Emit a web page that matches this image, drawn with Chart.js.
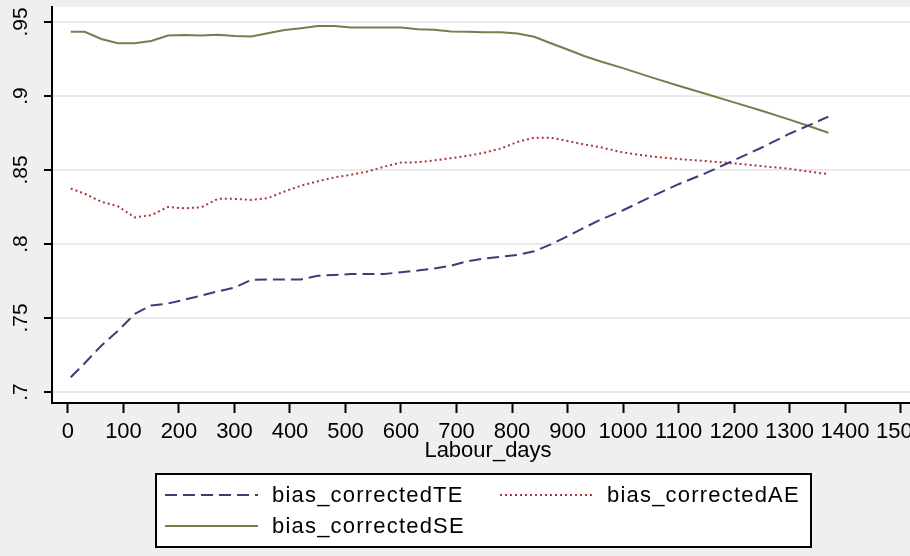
<!DOCTYPE html>
<html>
<head>
<meta charset="utf-8">
<title>bias corrected efficiency by Labour_days</title>
<script src="https://cdn.jsdelivr.net/npm/chart.js@4.4.1/dist/chart.umd.min.js"></script>
<style>
  html, body { margin: 0; padding: 0; background: #efefef; overflow: hidden; }
  #wrap { position: relative; width: 940px; height: 556px; }
</style>
</head>
<body>
<div id="wrap"><canvas id="chart"></canvas></div>
<script>
// ---- data ----
const labourDays = [5, 30, 60, 90, 120, 150, 180, 210, 240, 270, 300, 330, 360, 390, 420, 450, 480, 510, 540, 570,
                    600, 630, 660, 690, 720, 750, 780, 810, 840, 870, 900, 930, 960, 1000, 1050, 1100, 1150, 1200, 1250, 1300, 1340, 1370];

const teValues = [.7100, .7195, .7313, .7414, .7527, .7585, .7598, .7624, .7651, .7680, .7705, .7758, .7760, .7761, .7761, .7785, .7791, .7797, .7797, .7797,
                  .7810, .7821, .7835, .7853, .7884, .7902, .7914, .7927, .7951, .7998, .8052, .8110, .8165, .8228, .8318, .8404, .8480, .8565, .8652, .8745, .8810, .8860];

const aeValues = [.8375, .8340, .8285, .8255, .8180, .8195, .8250, .8241, .8248, .8305, .8305, .8298, .8310, .8355, .8394, .8424, .8450, .8468, .8490, .8523,
                  .8550, .8552, .8565, .8580, .8595, .8617, .8645, .8690, .8718, .8718, .8696, .8673, .8653, .8618, .8592, .8574, .8560, .8545, .8526, .8508, .8487, .8472];

const seValues = [.9434, .9433, .9385, .9356, .9356, .9371, .9408, .9412, .9408, .9414, .9405, .9402, .9423, .9446, .9458, .9472, .9473, .9462, .9462, .9462,
                  .9462, .9450, .9447, .9435, .9433, .9431, .9430, .9422, .9400, .9356, .9314, .9270, .9233, .9188, .9127, .9069, .9013, .8957, .8900, .8840, .8790, .8752];

const seriesNames = ["bias_correctedTE", "bias_correctedAE", "bias_correctedSE"];
const xTickValues = [0, 100, 200, 300, 400, 500, 600, 700, 800, 900, 1000, 1100, 1200, 1300, 1400, 1500];
const yTickValues = [0.7, 0.75, 0.8, 0.85, 0.9, 0.95];
const yTickLabels = [".7", ".75", ".8", ".85", ".9", ".95"];
const xTitle = "Labour_days";

// ---- helpers ----
const FONT = "'Liberation Sans', Arial, sans-serif";
const toPoints = vals => labourDays.map((x, i) => ({ x, y: vals[i] }));

// white plot region on the grey page
const plotBg = {
  id: "plotBg",
  beforeDraw(chart) {
    const { ctx, chartArea: a } = chart;
    ctx.save();
    ctx.fillStyle = "#ffffff";
    ctx.fillRect(a.left, a.top, a.right - a.left, a.bottom - a.top);
    ctx.restore();
  },
};

// Stata-style boxed legend, two columns
const boxLegend = {
  id: "boxLegend",
  afterDraw(chart) {
    const ctx = chart.ctx;
    const ds = chart.data.datasets;
    const slots = [[165, 495], [500, 495], [165, 526]];
    ctx.save();
    ctx.fillStyle = "#ffffff";
    ctx.fillRect(156, 474, 655, 73);
    ctx.strokeStyle = "#000";
    ctx.lineWidth = 2;
    ctx.strokeRect(156, 474, 655, 73);

    ds.forEach((d, i) => {
      const [x, y] = slots[i];
      ctx.beginPath();
      ctx.setLineDash(d.borderDash || []);
      ctx.strokeStyle = d.borderColor;
      ctx.lineWidth = d.borderWidth;
      ctx.moveTo(x, y);
      ctx.lineTo(x + 93, y);
      ctx.stroke();
      ctx.setLineDash([]);
      ctx.fillStyle = "#000";
      ctx.font = "22px " + FONT;
      ctx.textBaseline = "middle";
      if ("letterSpacing" in ctx) ctx.letterSpacing = "1.2px";
      ctx.fillText(d.label, x + 107, y + 1);
    });
    ctx.restore();
  },
};

function zeroPad(scale) {
  scale.paddingLeft = scale.paddingRight = scale.paddingTop = scale.paddingBottom = 0;
}

new Chart(document.getElementById("chart"), {
  type: "line",
  data: {
    datasets: [
      { label: seriesNames[0], data: toPoints(teValues), borderColor: "#3c3c7c", borderWidth: 2, borderDash: [12, 6] },
      { label: seriesNames[1], data: toPoints(aeValues), borderColor: "#ae3638", borderWidth: 2, borderDash: [2, 3] },
      { label: seriesNames[2], data: toPoints(seValues), borderColor: "#7b7b4b", borderWidth: 2 },
    ],
  },
  options: {
    responsive: true,
    maintainAspectRatio: false,
    animation: false,
    elements: { point: { radius: 0 }, line: { tension: 0, fill: false } },
    layout: { padding: { left: 0, top: 7, right: 16, bottom: 91.8 } },
    plugins: { legend: { display: false }, tooltip: { enabled: false } },
    scales: {
      x: {
        type: "linear",
        min: -28.8,
        max: 1542.3,
        border: { color: "#000", width: 2 },
        grid: { drawOnChartArea: false, drawTicks: true, tickLength: 10, tickColor: "#000", tickWidth: 2 },
        ticks: {
          autoSkip: false, minRotation: 0, maxRotation: 0, padding: 6,
          color: "#000", font: { family: FONT, size: 22 },
          callback: v => String(v),
        },
        title: { display: true, text: xTitle, color: "#000", padding: 0, font: { family: FONT, size: 22 } },
        afterBuildTicks: s => { s.ticks = xTickValues.map(v => ({ value: v })); },
        afterFit: s => { s.height = 61.2; zeroPad(s); },
      },
      y: {
        type: "linear",
        min: 0.6926,
        max: 0.9601,
        border: { color: "#000", width: 2 },
        grid: { color: "#eaeaea", lineWidth: 2, tickLength: 8, tickColor: "#000", tickWidth: 2 },
        ticks: {
          minRotation: 90, maxRotation: 90, crossAlign: "center", padding: 8,
          color: "#000", font: { family: "'Liberation Sans Narrow', " + FONT, size: 21 },
          callback: v => yTickLabels[yTickValues.indexOf(v)],
        },
        afterBuildTicks: s => { s.ticks = yTickValues.map(v => ({ value: v })); },
        afterFit: s => { s.width = 52; zeroPad(s); },
      },
    },
  },
  plugins: [plotBg, boxLegend],
});
</script>
</body>
</html>
